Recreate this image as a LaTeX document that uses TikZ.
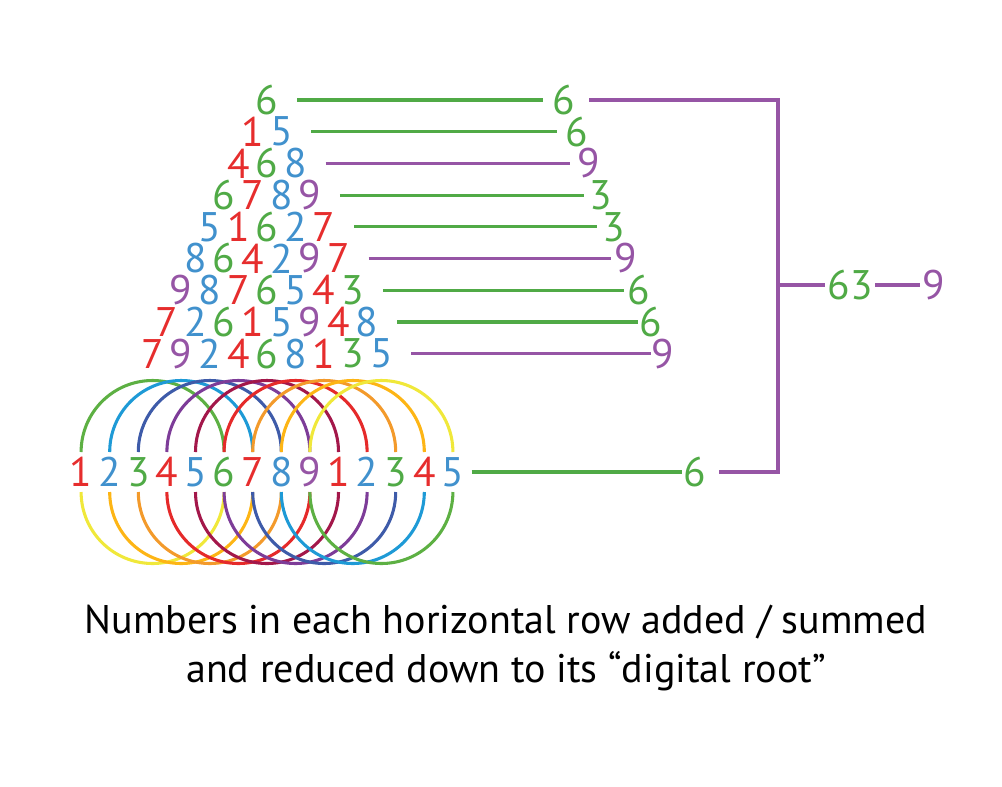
\documentclass[tikz,border=0pt]{standalone}
\usepackage{fontspec}
\setmainfont{PT Sans}
\definecolor{dgreen}{RGB}{80,170,70}
\definecolor{dred}{RGB}{230,45,45}
\definecolor{dblue}{RGB}{65,145,205}
\definecolor{dpurple}{RGB}{150,85,165}
\colorlet{tone1}{dred}\colorlet{tone4}{dred}\colorlet{tone7}{dred}
\colorlet{tone2}{dblue}\colorlet{tone5}{dblue}\colorlet{tone8}{dblue}
\colorlet{tone3}{dgreen}\colorlet{tone6}{dgreen}\colorlet{tone9}{dpurple}
\definecolor{lgreen}{RGB}{93,176,67}
\definecolor{lcyan}{RGB}{30,154,214}
\definecolor{lnavy}{RGB}{62,91,169}
\definecolor{lviolet}{RGB}{125,60,152}
\definecolor{lmaroon}{RGB}{163,23,74}
\definecolor{lred}{RGB}{229,42,42}
\definecolor{lorange}{RGB}{243,154,43}
\definecolor{lamber}{RGB}{253,181,21}
\definecolor{lyellow}{RGB}{240,232,58}
\tikzset{
  dig/.style={inner sep=0pt, font=\fontsize{31}{32}\selectfont},
  link/.style={line width=2.4pt},
  hoop/.style={line width=2.3pt},
}
\begin{document}
\begin{tikzpicture}[x=0.75pt, y=-0.75pt]
    \useasboundingbox (0,0) rectangle (1002,786);
    % 金字塔各行与数字根
    \foreach \k/\digs/\s in {1/{6}/6, 2/{1,5}/6, 3/{4,6,8}/9, 4/{6,7,8,9}/3,
        5/{5,1,6,2,7}/3, 6/{8,6,4,2,9,7}/9, 7/{9,8,7,6,5,4,3}/6,
        8/{7,2,6,1,5,9,4,8}/6, 9/{7,9,2,4,6,8,1,3,5}/9} {
        \pgfmathsetmacro\yy{100+(\k-1)*31.7}
        \foreach \d [count=\i] in \digs
            \node[dig,text=tone\d] (r\k-\i) at ({267+(\i-(\k+1)/2)*28.6},\yy) {\d};
        \node[dig,text=tone\s] (s\k) at ({564+(\k-1)*12.4},\yy) {\s};
        \pgfmathsetmacro\gap{(21-(\k-1)*1.1)*0.75}
        \draw[link,draw=tone\s,shorten <=22.5pt,shorten >=\gap pt] (r\k-\k.center) -- (s\k.center);
    }

    % 底行
    \foreach \d [count=\i] in {1,2,3,4,5,6,7,8,9,1,2,3,4,5}
        \node[dig,text=tone\d] (b\i) at ({267+(\i-7.5)*28.6},472) {\d};
    \node[dig,text=tone6] (bs) at (695,472) {6};
    \draw[link,draw=tone6,shorten <=14pt,shorten >=10pt] (b14.center) -- (bs.center);

    % 彩色圆环
    \foreach \c [count=\i] in {lgreen,lcyan,lnavy,lviolet,lmaroon,lred,lorange,lamber,lyellow}
        \draw[hoop,\c] ([yshift=15pt]b\i.center) arc[start angle=180, end angle=360, radius=71.5];
    \foreach \c [count=\i] in {lyellow,lamber,lorange,lred,lmaroon,lviolet,lnavy,lcyan,lgreen}
        \draw[hoop,\c] ([yshift=-15pt]b\i.center) arc[start angle=180, end angle=0, radius=71.5];

    % 右侧汇总
    \coordinate (bt) at (778,100);
    \coordinate (bm) at (778,285);
    \coordinate (bb) at (778,472);
    \draw[link,draw=tone9,shorten <=18.75pt,shorten >=18pt] (s1.center) -- (bt) -- (bb) -- (bs.center);
    \node[dig,text=tone3,inner sep=2pt] (t63) at (850,285) {63};
    \node[dig,text=tone9,inner sep=2pt] (t9) at (934,285) {9};
    \draw[link,draw=tone9] (bm) -- (t63.west);
    \draw[link,draw=tone9] (t63.east) -- (t9.west);

    \node[font=\fontsize{30}{36.75}\selectfont,align=center,anchor=base] (cap) at (506,682)
        {Numbers in each horizontal row added / summed\\and reduced down to its “digital root”};
\end{tikzpicture}
\end{document}
